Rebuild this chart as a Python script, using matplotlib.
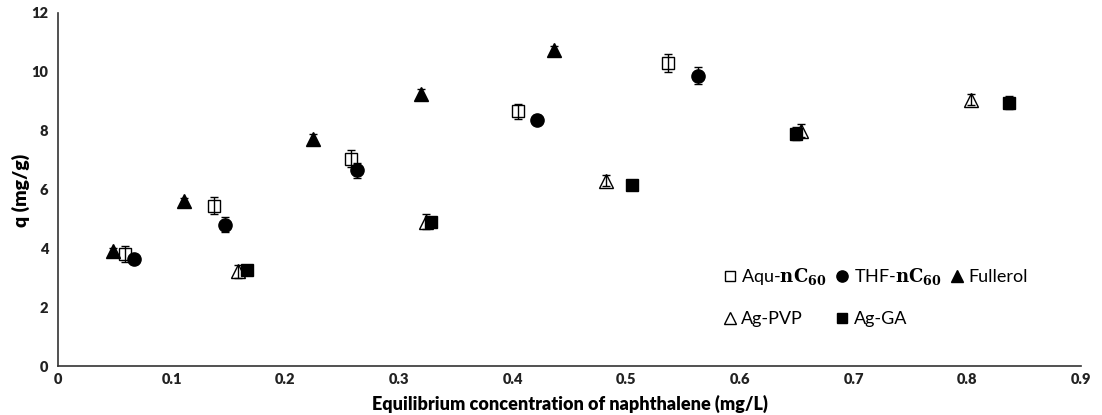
import matplotlib
matplotlib.use("Agg")
import matplotlib.pyplot as plt

# Data
aqu_x = [0.059, 0.137, 0.258, 0.405, 0.537]
aqu_q = [3.80, 5.45, 7.05, 8.65, 10.30]
aqu_e = [0.28, 0.30, 0.30, 0.25, 0.30]

thf_x = [0.067, 0.147, 0.263, 0.421, 0.563]
thf_q = [3.64, 4.80, 6.65, 8.37, 9.87]
thf_e = [0.12, 0.25, 0.25, 0.15, 0.28]

ful_x = [0.048, 0.111, 0.224, 0.319, 0.436]
ful_q = [3.90, 5.60, 7.72, 9.25, 10.75]
ful_e = [0.10, 0.12, 0.15, 0.18, 0.12]

pvp_x = [0.158, 0.324, 0.482, 0.654, 0.803]
pvp_q = [3.22, 4.90, 6.30, 8.00, 9.05]
pvp_e = [0.22, 0.25, 0.18, 0.22, 0.18]

ga_x = [0.166, 0.328, 0.505, 0.649, 0.837]
ga_q = [3.25, 4.90, 6.15, 7.90, 8.95]
ga_e = [0.08, 0.12, 0.15, 0.22, 0.22]

x_ticks = [0, 0.1, 0.2, 0.3, 0.4, 0.5, 0.6, 0.7, 0.8, 0.9]
x_ticklabels = ["0", "0.1", "0.2", "0.3", "0.4", "0.5", "0.6", "0.7", "0.8", "0.9"]
y_ticks = [0, 2, 4, 6, 8, 10, 12]

plt.rcParams['mathtext.fontset'] = 'dejavuserif'

fig = plt.figure(figsize=(11.02, 4.15), dpi=100)
ax = fig.add_axes([0.0526, 0.118, 0.9284, 0.851])

common = dict(linestyle='none', ecolor='black', elinewidth=1.0, capsize=3,
              capthick=1.0, markeredgewidth=1.0)

h_aqu = ax.errorbar(aqu_x, aqu_q, yerr=aqu_e, marker='s', mfc='none', mec='black',
                    color='black', markersize=8.5, **common)
h_thf = ax.errorbar(thf_x, thf_q, yerr=thf_e, marker='o', mfc='black', mec='black',
                    color='black', markersize=9.5, **common)
h_ful = ax.errorbar(ful_x, ful_q, yerr=ful_e, marker='^', mfc='black', mec='black',
                    color='black', markersize=9.5, **common)
h_pvp = ax.errorbar(pvp_x, pvp_q, yerr=pvp_e, marker='^', mfc='none', mec='black',
                    color='black', markersize=9.5, **common)
h_ga = ax.errorbar(ga_x, ga_q, yerr=ga_e, marker='s', mfc='black', mec='black',
                   color='black', markersize=8.5, **common)

ax.set_xlim(0, 0.9)
ax.set_ylim(0, 12)
ax.set_xticks(x_ticks)
ax.set_xticklabels(x_ticklabels)
ax.set_yticks(y_ticks)
ax.tick_params(axis='x', length=0, pad=5, labelsize=10.5)
ax.tick_params(axis='y', length=0, pad=7, labelsize=10.5)
for lab in ax.get_xticklabels() + ax.get_yticklabels():
    lab.set_fontfamily('Lato')
    lab.set_fontweight('heavy')
    lab.set_color('#222222')

for s in ['top', 'right']:
    ax.spines[s].set_visible(False)
for s in ['left', 'bottom']:
    ax.spines[s].set_color('#333333')
    ax.spines[s].set_linewidth(1.2)

ax.set_xlabel('Equilibrium concentration of naphthalene (mg/L)', fontfamily='Lato',
              fontweight='heavy', fontsize=13, labelpad=6)
ax.set_ylabel('q (mg/g)', fontfamily='Lato', fontweight='heavy', fontsize=14)
ax.yaxis.set_label_coords(-0.0274, 0.496)

labels = ['Aqu-$\\mathbf{nC}_{\\mathbf{60}}$', 'Ag-PVP',
          'THF-$\\mathbf{nC}_{\\mathbf{60}}$', 'Ag-GA', 'Fullerol']
handles = [h_aqu[0], h_pvp[0], h_thf[0], h_ga[0], h_ful[0]]
leg = fig.legend(handles, labels, loc='upper left', bbox_to_anchor=(0.6416, 0.397),
                 ncol=3, frameon=False, prop={'family': 'Lato', 'size': 13},
                 handlelength=0.7, handletextpad=0.3, columnspacing=0.5,
                 labelspacing=1.3, markerscale=0.85)

fig.savefig('out.png', dpi=100)
